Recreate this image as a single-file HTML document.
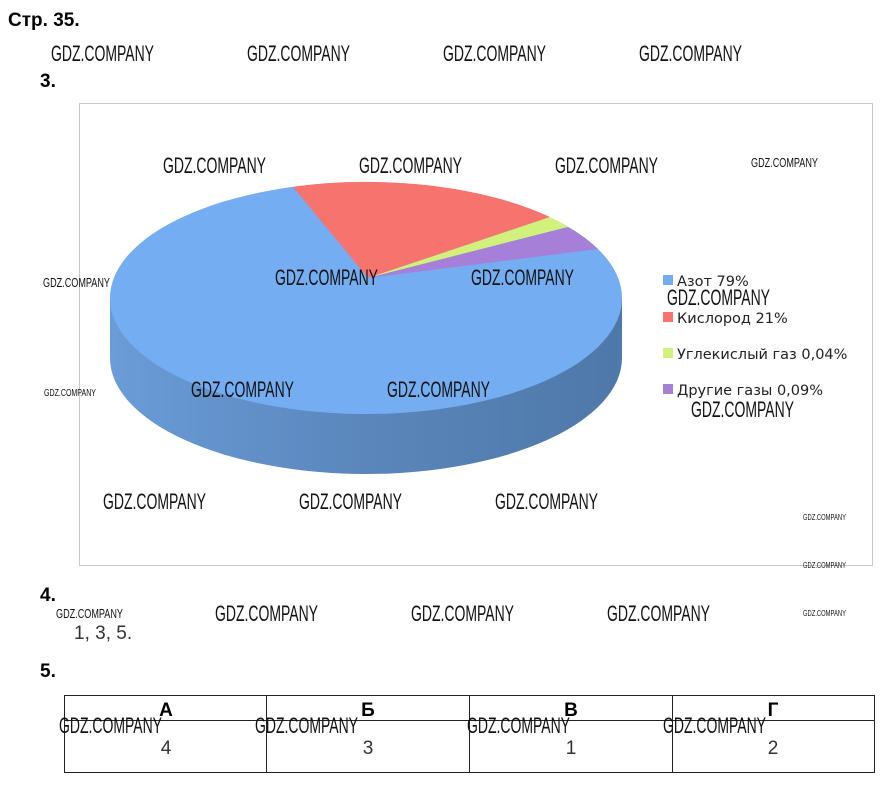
<!DOCTYPE html>
<html><head><meta charset="utf-8"><style>
html,body{margin:0;padding:0;background:#fff;width:886px;height:791px;overflow:hidden}
svg{display:block}
.wm{font-family:"Liberation Sans",sans-serif;fill:#111}
.lg{font-family:"DejaVu Sans","Liberation Sans",sans-serif;font-size:14.5px;fill:#222}
</style></head><body>
<svg width="886" height="791" viewBox="0 0 886 791" xmlns="http://www.w3.org/2000/svg">
<defs>
<linearGradient id="side" x1="0" x2="1" y1="0" y2="0">
<stop offset="0" stop-color="#6a9cd8"/><stop offset="0.5" stop-color="#5a86bb"/><stop offset="1" stop-color="#4e78a8"/>
</linearGradient>
</defs>
<text x="8" y="26" font-family="Liberation Sans,sans-serif" font-weight="bold" font-size="19">Стр. 35.</text>
<text x="40" y="87" font-family="Liberation Sans,sans-serif" font-weight="bold" font-size="19">3.</text>
<rect x="79.5" y="103.5" width="793" height="462" fill="#fff" stroke="#c8c8c8"/>
<path d="M110,298 L110,358 A256,116 0 0 0 622,358 L622,298 Z" fill="url(#side)"/>
<ellipse cx="366" cy="298" rx="256" ry="116" fill="#75adf3"/>
<path d="M368,278 L293,186.8 A256,116 0 0 1 550,217 Z" fill="#f6736e"/>
<path d="M368,278 L550,217 A256,116 0 0 1 568,227 Z" fill="#d2f07c"/>
<path d="M368,278 L568,227 A256,116 0 0 1 598,249 Z" fill="#a67fd8"/>
<rect x="663" y="275" width="10" height="10" fill="#75adf3"/><text class="lg" x="677" y="286">Азот 79%</text>
<rect x="663" y="312" width="10" height="10" fill="#f6736e"/><text class="lg" x="677" y="323">Кислород 21%</text>
<rect x="663" y="348" width="10" height="10" fill="#d2f07c"/><text class="lg" x="677" y="359">Углекислый газ 0,04%</text>
<rect x="663" y="384" width="10" height="10" fill="#a67fd8"/><text class="lg" x="677" y="395">Другие газы 0,09%</text>
<text x="40" y="601" font-family="Liberation Sans,sans-serif" font-weight="bold" font-size="19">4.</text>
<text x="74" y="639" font-family="Liberation Sans,sans-serif" font-size="19" fill="#333">1, 3, 5.</text>
<text x="40" y="677" font-family="Liberation Sans,sans-serif" font-weight="bold" font-size="19">5.</text>
<g stroke="#222" stroke-width="1" fill="none">
<rect x="64.5" y="695.5" width="810" height="77"/>
<line x1="64" y1="720.5" x2="875" y2="720.5"/>
<line x1="266.5" y1="695" x2="266.5" y2="773"/>
<line x1="469.5" y1="695" x2="469.5" y2="773"/>
<line x1="672.5" y1="695" x2="672.5" y2="773"/>
</g>
<g font-family="Liberation Sans,sans-serif" font-size="19" text-anchor="middle">
<text x="166" y="716" font-weight="bold">А</text><text x="368" y="716" font-weight="bold">Б</text>
<text x="571" y="716" font-weight="bold">В</text><text x="773" y="716" font-weight="bold">Г</text>
<text x="166" y="754" fill="#333">4</text><text x="368" y="754" fill="#333">3</text>
<text x="571" y="754" fill="#333">1</text><text x="773" y="754" fill="#333">2</text>
</g>
<g class="wm" font-size="22">
<text x="51" y="61" textLength="103" lengthAdjust="spacingAndGlyphs">GDZ.COMPANY</text>
<text x="247" y="61" textLength="103" lengthAdjust="spacingAndGlyphs">GDZ.COMPANY</text>
<text x="443" y="61" textLength="103" lengthAdjust="spacingAndGlyphs">GDZ.COMPANY</text>
<text x="639" y="61" textLength="103" lengthAdjust="spacingAndGlyphs">GDZ.COMPANY</text>
<text x="163" y="173" textLength="103" lengthAdjust="spacingAndGlyphs">GDZ.COMPANY</text>
<text x="359" y="173" textLength="103" lengthAdjust="spacingAndGlyphs">GDZ.COMPANY</text>
<text x="555" y="173" textLength="103" lengthAdjust="spacingAndGlyphs">GDZ.COMPANY</text>
<text x="275" y="285" textLength="103" lengthAdjust="spacingAndGlyphs">GDZ.COMPANY</text>
<text x="471" y="285" textLength="103" lengthAdjust="spacingAndGlyphs">GDZ.COMPANY</text>
<text x="667" y="305" textLength="103" lengthAdjust="spacingAndGlyphs">GDZ.COMPANY</text>
<text x="191" y="397" textLength="103" lengthAdjust="spacingAndGlyphs">GDZ.COMPANY</text>
<text x="387" y="397" textLength="103" lengthAdjust="spacingAndGlyphs">GDZ.COMPANY</text>
<text x="691" y="417" textLength="103" lengthAdjust="spacingAndGlyphs">GDZ.COMPANY</text>
<text x="103" y="509" textLength="103" lengthAdjust="spacingAndGlyphs">GDZ.COMPANY</text>
<text x="299" y="509" textLength="103" lengthAdjust="spacingAndGlyphs">GDZ.COMPANY</text>
<text x="495" y="509" textLength="103" lengthAdjust="spacingAndGlyphs">GDZ.COMPANY</text>
<text x="215" y="621" textLength="103" lengthAdjust="spacingAndGlyphs">GDZ.COMPANY</text>
<text x="411" y="621" textLength="103" lengthAdjust="spacingAndGlyphs">GDZ.COMPANY</text>
<text x="607" y="621" textLength="103" lengthAdjust="spacingAndGlyphs">GDZ.COMPANY</text>
<text x="59" y="733" textLength="103" lengthAdjust="spacingAndGlyphs">GDZ.COMPANY</text>
<text x="255" y="733" textLength="103" lengthAdjust="spacingAndGlyphs">GDZ.COMPANY</text>
<text x="467" y="733" textLength="103" lengthAdjust="spacingAndGlyphs">GDZ.COMPANY</text>
<text x="663" y="733" textLength="103" lengthAdjust="spacingAndGlyphs">GDZ.COMPANY</text>
</g>
<g class="wm">
<text x="751" y="167" font-size="13" textLength="67" lengthAdjust="spacingAndGlyphs">GDZ.COMPANY</text>
<text x="43" y="287" font-size="13" textLength="67" lengthAdjust="spacingAndGlyphs">GDZ.COMPANY</text>
<text x="56" y="618" font-size="13" textLength="67" lengthAdjust="spacingAndGlyphs">GDZ.COMPANY</text>
<text x="44" y="396" font-size="10" textLength="52" lengthAdjust="spacingAndGlyphs">GDZ.COMPANY</text>
<text x="803" y="520" font-size="8" textLength="43" lengthAdjust="spacingAndGlyphs">GDZ.COMPANY</text>
<text x="803" y="568" font-size="8" textLength="43" lengthAdjust="spacingAndGlyphs">GDZ.COMPANY</text>
<text x="803" y="616" font-size="8" textLength="43" lengthAdjust="spacingAndGlyphs">GDZ.COMPANY</text>
</g>
</svg>
</body></html>
